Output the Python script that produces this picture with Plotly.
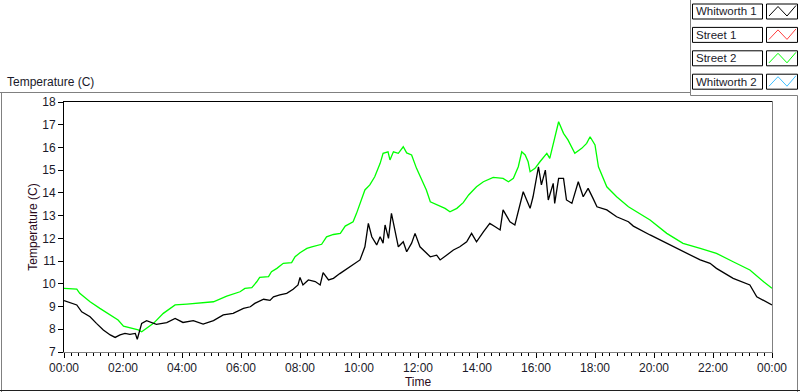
import datetime as dt
import plotly.graph_objects as go

# ---------------- data ----------------
street2_time = ["00:00","00:15","00:26","00:32","00:53","01:13","01:34","01:50","02:01","02:21",
                "02:31","02:38","03:02","03:22","03:46","04:10","04:37","05:04","05:31","05:58",
                "06:08","06:22","06:32","06:38","06:56","07:02","07:13","07:26","07:43","07:50",
                "08:00","08:14","08:24","08:44","08:54","09:08","09:22","09:32","09:48","09:55",
                "10:12","10:22","10:32","10:43","10:49","10:59","11:03","11:10","11:20","11:30",
                "11:37","11:47","11:57","12:07","12:17","12:25","12:38","12:55","13:05","13:19",
                "13:32","13:43","13:59","14:13","14:33","14:53","15:04","15:14","15:24","15:31",
                "15:38","15:44","15:48","15:58","16:08","16:22","16:28","16:35","16:46","16:56",
                "17:05","17:19","17:33","17:43","17:50","18:00","18:07","18:24","18:44","19:08",
                "19:18","19:52","20:26","20:59","21:34","22:07","22:41","23:15","23:43","24:00"]
street2_temp = [9.80,9.78,9.77,9.58,9.21,8.92,8.63,8.41,8.14,8.04,
                7.97,7.89,8.26,8.70,9.07,9.11,9.17,9.21,9.46,9.65,
                9.80,9.83,10.09,10.28,10.32,10.53,10.68,10.90,10.93,11.19,
                11.37,11.56,11.63,11.74,12.07,12.17,12.22,12.54,12.73,13.10,
                14.13,14.35,14.71,15.30,15.74,15.81,15.45,15.81,15.74,16.03,
                15.76,15.67,15.08,14.64,14.13,13.61,13.47,13.32,13.17,13.32,
                13.57,13.91,14.27,14.49,14.68,14.64,14.49,14.64,15.15,15.81,
                15.67,15.37,14.93,15.08,15.37,15.74,15.52,16.18,17.13,16.62,
                16.33,15.74,15.96,16.18,16.47,16.11,15.15,14.27,13.83,13.39,
                13.25,12.81,12.22,11.78,11.56,11.34,10.97,10.61,10.09,9.80]

whitworth1_time = ["00:00","00:12","00:26","00:36","00:53","01:06","01:20","01:34","01:44","01:54",
                   "02:04","02:14","02:25","02:29","02:38","02:48","03:08","03:29","03:46","04:02",
                   "04:23","04:43","05:04","05:24","05:44","06:05","06:19","06:28","06:46","06:59",
                   "07:06","07:19","07:33","07:46","07:56","08:00","08:06","08:17","08:31","08:41",
                   "08:47","08:58","09:08","09:21","09:41","10:02","10:12","10:19","10:26","10:36",
                   "10:43","10:49","10:53","11:00","11:06","11:16","11:20","11:30","11:37","11:47",
                   "11:54","12:04","12:11","12:25","12:38","12:45","12:58","13:12","13:25","13:39",
                   "13:49","13:59","14:13","14:26","14:37","14:47","14:53","15:07","15:17","15:28",
                   "15:34","15:41","15:48","15:54","16:05","16:11","16:19","16:25","16:35","16:38",
                   "16:46","16:56","17:02","17:13","17:26","17:36","17:46","17:56","18:04","18:24",
                   "18:44","19:08","19:18","19:52","20:26","20:59","21:34","21:54","22:07","22:41",
                   "23:15","23:29","23:49","24:00"]
whitworth1_temp = [9.26,9.17,9.07,8.77,8.55,8.26,7.97,7.75,7.64,7.75,
                   7.82,7.78,7.82,7.56,8.26,8.38,8.22,8.29,8.48,8.30,
                   8.38,8.23,8.38,8.63,8.70,8.92,8.99,9.14,9.32,9.27,
                   9.43,9.51,9.58,9.76,9.95,10.28,9.95,10.17,10.10,9.95,
                   10.49,10.17,10.24,10.45,10.75,11.05,11.63,12.66,12.07,11.71,
                   12.07,11.79,12.59,12.00,13.10,12.07,11.63,11.85,11.41,11.79,
                   12.22,11.63,11.49,11.19,11.26,11.05,11.26,11.49,11.63,11.85,
                   12.22,11.85,12.29,12.66,12.51,12.37,13.25,12.73,12.59,13.54,
                   14.05,13.69,13.32,13.83,15.15,14.35,15.00,13.69,14.42,13.54,
                   14.64,14.64,13.69,13.54,14.49,13.83,14.20,13.76,13.39,13.25,
                   12.95,12.73,12.54,12.15,11.78,11.41,11.05,10.90,10.68,10.24,
                   9.95,9.43,9.21,9.07]

series_names = ["Whitworth 1", "Street 1", "Street 2", "Whitworth 2"]
series_colors = ["#000000", "#ff4040", "#00ff00", "#40c0ff"]

y_ticks = list(range(7, 19))
x_tick_labels = ["00:00","02:00","04:00","06:00","08:00","10:00","12:00",
                 "14:00","16:00","18:00","20:00","22:00","00:00"]

# ---------------- helpers ----------------
BASE = dt.datetime(2024, 1, 1)
W, H = 800, 392


def to_dt(hhmm):
    h, m = hhmm.split(":")
    return BASE + dt.timedelta(minutes=int(h) * 60 + int(m))


def px(x):
    return x / W


def py(y):
    return 1 - y / H


FONT = "Liberation Sans"
TXT = "#1a1a2a"

fig = go.Figure()
fig.add_trace(go.Scatter(x=[to_dt(t) for t in street2_time], y=street2_temp, mode="lines",
                         name="Street 2", line=dict(color=series_colors[2], width=1.3),
                         showlegend=False))
fig.add_trace(go.Scatter(x=[to_dt(t) for t in whitworth1_time], y=whitworth1_temp, mode="lines",
                         name="Whitworth 1", line=dict(color=series_colors[0], width=1.3),
                         showlegend=False))

tick_vals = [BASE + dt.timedelta(hours=2 * i) for i in range(len(x_tick_labels))]

fig.update_layout(
    width=W, height=H,
    margin=dict(l=0, r=0, t=0, b=0, autoexpand=False),
    paper_bgcolor="white", plot_bgcolor="white",
    font=dict(family=FONT, size=12, color=TXT),
    xaxis=dict(
        domain=[px(64), px(772)],
        range=[BASE, BASE + dt.timedelta(hours=24)],
        tickvals=tick_vals, ticktext=x_tick_labels,
        ticks="outside", ticklen=5, tickcolor="black", tickwidth=1,
        minor=dict(dtick=15 * 60 * 1000, ticks="outside", ticklen=3, tickcolor="black"),
        showgrid=False, zeroline=False, automargin=False,
        showline=True, linecolor="#808080", linewidth=1,
        tickfont=dict(size=12, color=TXT),
        title=dict(text="Time", font=dict(size=12, color="#2a0a1a"), standoff=3),
    ),
    yaxis=dict(
        domain=[1 - 352 / H, 1 - 102 / H],
        range=[7, 18],
        tickvals=y_ticks,
        ticks="outside", ticklen=5, tickcolor="black", tickwidth=1,
        showgrid=False, zeroline=False, automargin=False,
        showline=True, linecolor="black", linewidth=1,
        tickfont=dict(size=12, color=TXT),
        title=dict(text="Temperature (C)", font=dict(size=12, color="#2a0a1a"), standoff=2),
    ),
)

shapes = []


def line(x0, y0, x1, y1, color="#808080", width=1):
    shapes.append(dict(type="line", xref="paper", yref="paper",
                       x0=px(x0), y0=py(y0), x1=px(x1), y1=py(y1),
                       line=dict(color=color, width=width)))


# panel frame
line(0, 92.5, 690.5, 92.5)
line(690.5, 0, 690.5, 95.5)
line(690.5, 95.5, 797.5, 95.5)
line(797.5, 95.5, 797.5, 392)
line(1.5, 92.5, 1.5, 392)
line(0, 390.5, 800, 390.5, color="#202020")
# plot frame (top black, right grey)
line(63, 101.5, 772.5, 101.5, color="black")
line(772.5, 101.5, 772.5, 353, color="#808080")

annotations = [
    dict(text="Temperature (C)", x=px(5), y=py(82), xref="paper", yref="paper",
         xanchor="left", yanchor="middle", showarrow=False,
         font=dict(family=FONT, size=12, color=TXT)),
]

# custom legend (LabVIEW plot legend look)
for i, (name, col) in enumerate(zip(series_names, series_colors)):
    top = 4 + i * 23.4
    bot = top + 15
    shapes.append(dict(type="rect", xref="paper", yref="paper",
                       x0=px(692.5), x1=px(762.5), y0=py(bot), y1=py(top),
                       line=dict(color="black", width=1), fillcolor="white"))
    shapes.append(dict(type="rect", xref="paper", yref="paper",
                       x0=px(766.5), x1=px(797.5), y0=py(bot), y1=py(top),
                       line=dict(color="black", width=1), fillcolor="white"))
    path = "M {} {} L {} {} L {} {} L {} {}".format(
        px(769), py(top + 12), px(778), py(top + 2.5),
        px(787), py(top + 12), px(796), py(top + 1.5))
    shapes.append(dict(type="path", xref="paper", yref="paper", path=path,
                       line=dict(color=col, width=1)))
    annotations.append(dict(text=name, x=px(694), y=py(top + 7.5), xref="paper", yref="paper",
                            xanchor="left", yanchor="middle", showarrow=False,
                            font=dict(family=FONT, size=11.5, color=TXT)))

fig.update_layout(shapes=shapes, annotations=annotations)
fig.write_html("out.html", config={"displayModeBar": False},
               post_script="document.body.style.margin='0';document.body.style.overflow='hidden';")
